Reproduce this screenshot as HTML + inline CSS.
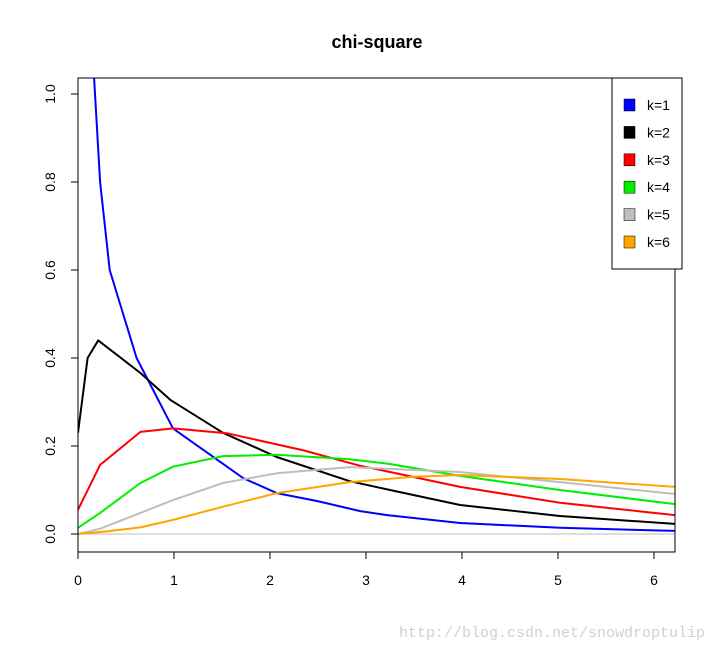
<!DOCTYPE html>
<html><head><meta charset="utf-8"><style>
body{margin:0;background:#fff;width:716px;height:650px;overflow:hidden}
svg{display:block;font-family:"Liberation Sans",Arial,sans-serif}
</style></head><body>
<svg id="chart" width="716" height="650" viewBox="0 0 716 650">
<defs><clipPath id="clip"><rect x="78" y="78" width="597" height="474"/></clipPath></defs>
<text x="377" y="48" text-anchor="middle" font-size="18" font-weight="bold">chi-square</text>
<g id="series" clip-path="url(#clip)"></g>
<rect x="78" y="78" width="597" height="474" fill="none" stroke="#000" stroke-width="1"/>
<g id="axes"></g>
<g id="legend"></g>
<text x="705" y="637" text-anchor="end" font-family="Liberation Mono, monospace" font-size="15" fill="#d0d0d0">http://blog.csdn.net/snowdroptulip</text>
</svg>
<script>
const xTicks=[0,1,2,3,4,5,6];
const yTicks=[0,0.2,0.4,0.6,0.8,1.0];
const yTickLabels=["0.0","0.2","0.4","0.6","0.8","1.0"];
const seriesNames=["k=1","k=2","k=3","k=4","k=5","k=6"];
const seriesColors=["#0000ff","#000000","#ff0000","#00ee00","#bebebe","#ffa500"];
const xK1=[0.167,0.23,0.33,0.61,0.99,1.72,2.07,2.49,2.94,3.22,3.98,5.02,6.22];
const yK1=[1.04,0.8,0.6,0.4,0.24,0.127,0.093,0.075,0.052,0.043,0.025,0.014,0.007];
const xK2=[0,0.1,0.21,0.65,0.96,1.51,2.07,2.83,3.25,3.98,5.02,6.22];
const yK2=[0.23,0.4,0.44,0.366,0.305,0.23,0.175,0.12,0.1,0.066,0.041,0.023];
const xK3=[0,0.23,0.65,0.99,1.55,2.35,2.94,3.25,3.98,5.02,6.22];
const yK3=[0.055,0.157,0.232,0.24,0.229,0.19,0.155,0.141,0.107,0.071,0.043];
const xK4=[0,0.23,0.65,0.99,1.51,2.07,2.83,3.25,3.98,5.02,6.22];
const yK4=[0.014,0.048,0.116,0.153,0.177,0.18,0.17,0.159,0.132,0.1,0.068];
const xK5=[0,0.23,0.65,0.99,1.51,2.07,2.83,3.98,5.02,6.22];
const yK5=[0,0.012,0.048,0.077,0.116,0.138,0.152,0.141,0.118,0.091];
const xK6=[0,0.3,0.65,0.99,1.51,2.07,2.83,3.5,3.98,5.02,6.22];
const yK6=[0,0.006,0.015,0.032,0.062,0.093,0.118,0.13,0.134,0.125,0.107];
const X=v=>78+96*v, Y=v=>534-440*v;
const NS="http://www.w3.org/2000/svg";
function mk(t,a,p){const e=document.createElementNS(NS,t);for(const k in a)e.setAttribute(k,a[k]);p.appendChild(e);return e;}
const ser=document.getElementById('series'),axes=document.getElementById('axes'),leg=document.getElementById('legend');
const zl=mk('line',{x1:78,x2:675,y1:Y(0),y2:Y(0),stroke:'#bebebe','stroke-width':1},ser);


const xs=[xK1,xK2,xK3,xK4,xK5,xK6],ys=[yK1,yK2,yK3,yK4,yK5,yK6];
xs.forEach((xa,i)=>{
  const d=xa.map((x,j)=>(j?'L':'M')+X(x).toFixed(1)+','+Y(ys[i][j]).toFixed(1)).join(' ');
  const p=mk('path',{d:d,fill:'none',stroke:seriesColors[i],'stroke-width':2,'stroke-linejoin':'round'},ser);
  
  
});
xTicks.forEach(t=>{
  const l=mk('line',{x1:X(t),x2:X(t),y1:552,y2:559,stroke:'#000'},axes);
  
  
  const tx=mk('text',{x:X(t),y:585,'text-anchor':'middle','font-size':14},axes);
  tx.textContent=t;
  
  
});
yTicks.forEach((t,i)=>{
  const l=mk('line',{x1:71,x2:78,y1:Y(t),y2:Y(t),stroke:'#000'},axes);
  
  
  const tx=mk('text',{x:0,y:0,'text-anchor':'middle','font-size':14,transform:'translate(55,'+Y(t)+') rotate(-90)'},axes);
  tx.textContent=yTickLabels[i];
  
  
});
const lb=mk('rect',{x:612,y:78,width:70,height:191,fill:'#fff',stroke:'#000'},leg);


seriesNames.forEach((n,i)=>{
  const cy=105+27.4*i;
  const g=mk('g',{},leg);
  
  
  mk('rect',{x:624,y:cy-6,width:11,height:12,fill:seriesColors[i],stroke:'#000','stroke-width':0.5},g);
  const t=mk('text',{x:647,y:cy+5,'font-size':14},g);
  t.textContent=n;
});
</script>
</body></html>
